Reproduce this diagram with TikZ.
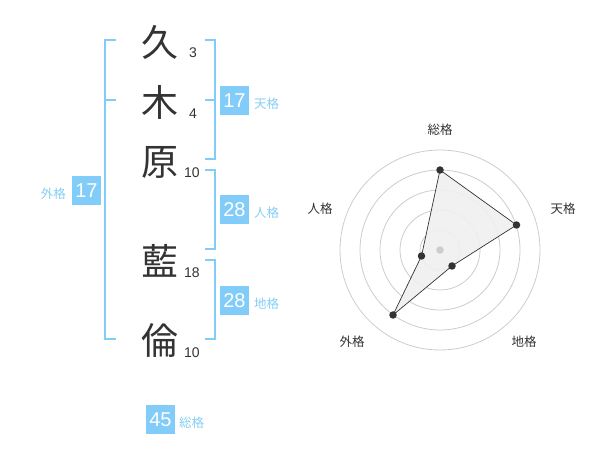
\documentclass[tikz,border=0pt]{standalone}
\usepackage{fontspec}
\usetikzlibrary{calc}
\setmainfont{Liberation Sans}
\newfontfamily\jp{Noto Sans CJK JP}
\definecolor{kblue}{HTML}{81CCF8}
\definecolor{klabel}{HTML}{86CDF5}
\definecolor{kdark}{HTML}{333333}
\definecolor{kgrid}{HTML}{CCCCCC}
\definecolor{kfill}{HTML}{F0F0F0}
\begin{document}
\begin{tikzpicture}[x=1pt,y=-1pt,
  kanji/.style={font=\jp\fontsize{37}{37}\selectfont, text=kdark, inner sep=0pt},
  strokes/.style={font=\fontsize{14}{14}\selectfont, text=kdark, inner sep=0pt},
  numbox/.style={fill=kblue, text=white, minimum width=29pt, minimum height=29pt, inner sep=0pt, font=\fontsize{20}{20}\selectfont},
  kaku/.style={font=\jp\fontsize{12.5}{12.5}\selectfont, text=klabel, inner sep=0pt},
  brk/.style={draw=kblue, line width=2pt},
  grid/.style={draw=kgrid, line width=0.8pt},
  rlabel/.style={font=\jp\fontsize{12.5}{12.5}\selectfont, text=kdark, inner sep=0pt},
  dot/.style={circle, fill=kdark, inner sep=0pt, minimum size=7.5pt}]
\useasboundingbox (0,0) rectangle (600,470);
% kanji
\node[kanji] (k1) at (160,42) {久};
\node[kanji] (k2) at (160,102) {木};
\node[kanji] (k3) at (160,162) {原};
\node[kanji] (k4) at (160,261) {藍};
\node[kanji] (k5) at (160,341) {倫};
\node[strokes] (s1) at (193,52.5) {3};
\node[strokes] (s2) at (193,113.5) {4};
\node[strokes] (s3) at (192,172.5) {10};
\node[strokes] (s4) at (192,272.5) {18};
\node[strokes] (s5) at (192,352.5) {10};
% brackets
\draw[brk] (116,40) -- (105,40) -- (105,339.5) -- (116,339.5);
\draw[brk] (105,100) -- (116,100);
\draw[brk] (205,40) -- (214.5,40) -- (214.5,159.5) -- (205,159.5);
\draw[brk] (205,100) -- (214.5,100);
\draw[brk] (205,170) -- (214.5,170) -- (214.5,249.5) -- (205,249.5);
\draw[brk] (205,260) -- (214.5,260) -- (214.5,339.5) -- (205,339.5);
% boxes
\node[numbox] (ten) at (234.5,100.5) {17};
\node[kaku, anchor=west] (tenl) at (254,104) {天格};
\node[numbox] (jin) at (234.5,209.5) {28};
\node[kaku, anchor=west] (jinl) at (254,213) {人格};
\node[numbox] (chi) at (234.5,300.5) {28};
\node[kaku, anchor=west] (chil) at (254,304) {地格};
\node[numbox] (gai) at (86.5,190.5) {17};
\node[kaku, anchor=east] (gail) at (66,194) {外格};
\node[numbox] (sou) at (160.5,419.5) {45};
\node[kaku, anchor=west] (soul) at (179,422.5) {総格};
% radar
\coordinate (c) at (440,250);
\foreach \r in {20,40,60,80,100} \draw[grid] (c) circle[radius=\r];
\coordinate (p1) at ($(c)+(0,-80)$);
\coordinate (p2) at ($(c)+(76.5,-25)$);
\coordinate (p3) at ($(c)+(12,16)$);
\coordinate (p4) at ($(c)+(-47,65)$);
\coordinate (p5) at ($(c)+(-18.5,6)$);
\filldraw[fill=kfill, fill opacity=0.9, draw=kdark, line width=0.7pt] (p1) -- (p2) -- (p3) -- (p4) -- (p5) -- cycle;
\node[circle, fill=kgrid, inner sep=0pt, minimum size=7.5pt] (cd) at (c) {};
\foreach \p in {p1,p2,p3,p4,p5} \node[dot] (d\p) at (\p) {};
\node[rlabel] (r1) at (440,130) {総格};
\node[rlabel] (r2) at (563,208.5) {天格};
\node[rlabel] (r3) at (524,342) {地格};
\node[rlabel] (r4) at (352,342) {外格};
\node[rlabel] (r5) at (320,208.5) {人格};
\end{tikzpicture}
\end{document}
